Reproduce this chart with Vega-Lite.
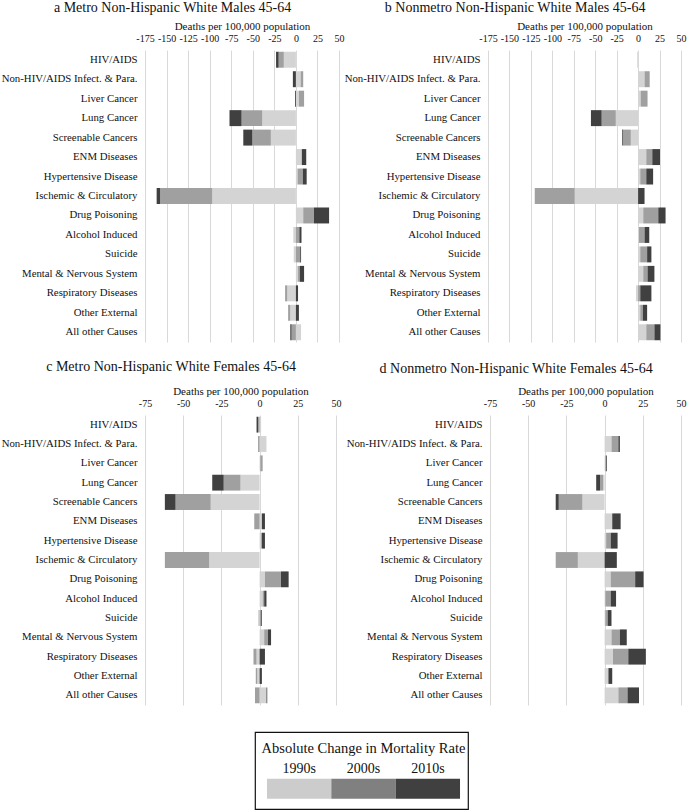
{
  "$schema": "https://vega.github.io/schema/vega-lite/v6.json",
  "padding": {"top": 1, "left": 1, "right": 1, "bottom": 1},
  "background": "white",
  "datasets": {
    "mort": [
      {"panel":"a","cause":"HIV/AIDS","decade":"1990s","value":-14},
      {"panel":"a","cause":"HIV/AIDS","decade":"2000s","value":-6},
      {"panel":"a","cause":"HIV/AIDS","decade":"2010s","value":-3},
      {"panel":"a","cause":"Non-HIV/AIDS Infect. & Para.","decade":"1990s","value":5.5},
      {"panel":"a","cause":"Non-HIV/AIDS Infect. & Para.","decade":"2000s","value":3},
      {"panel":"a","cause":"Non-HIV/AIDS Infect. & Para.","decade":"2010s","value":-3.5},
      {"panel":"a","cause":"Liver Cancer","decade":"1990s","value":3.5},
      {"panel":"a","cause":"Liver Cancer","decade":"2000s","value":6},
      {"panel":"a","cause":"Liver Cancer","decade":"2010s","value":-1},
      {"panel":"a","cause":"Lung Cancer","decade":"1990s","value":-39},
      {"panel":"a","cause":"Lung Cancer","decade":"2000s","value":-24},
      {"panel":"a","cause":"Lung Cancer","decade":"2010s","value":-14},
      {"panel":"a","cause":"Screenable Cancers","decade":"1990s","value":-29},
      {"panel":"a","cause":"Screenable Cancers","decade":"2000s","value":-21.5},
      {"panel":"a","cause":"Screenable Cancers","decade":"2010s","value":-10.5},
      {"panel":"a","cause":"ENM Diseases","decade":"1990s","value":6.5},
      {"panel":"a","cause":"ENM Diseases","decade":"2000s","value":0.5},
      {"panel":"a","cause":"ENM Diseases","decade":"2010s","value":5},
      {"panel":"a","cause":"Hypertensive Disease","decade":"1990s","value":2},
      {"panel":"a","cause":"Hypertensive Disease","decade":"2000s","value":6},
      {"panel":"a","cause":"Hypertensive Disease","decade":"2010s","value":4.5},
      {"panel":"a","cause":"Ischemic & Circulatory","decade":"1990s","value":-97},
      {"panel":"a","cause":"Ischemic & Circulatory","decade":"2000s","value":-60.5},
      {"panel":"a","cause":"Ischemic & Circulatory","decade":"2010s","value":-4},
      {"panel":"a","cause":"Drug Poisoning","decade":"1990s","value":8.5},
      {"panel":"a","cause":"Drug Poisoning","decade":"2000s","value":12.5},
      {"panel":"a","cause":"Drug Poisoning","decade":"2010s","value":17.5},
      {"panel":"a","cause":"Alcohol Induced","decade":"1990s","value":-3},
      {"panel":"a","cause":"Alcohol Induced","decade":"2000s","value":4},
      {"panel":"a","cause":"Alcohol Induced","decade":"2010s","value":2.5},
      {"panel":"a","cause":"Suicide","decade":"1990s","value":-2.5},
      {"panel":"a","cause":"Suicide","decade":"2000s","value":5},
      {"panel":"a","cause":"Suicide","decade":"2010s","value":1},
      {"panel":"a","cause":"Mental & Nervous System","decade":"1990s","value":2.5},
      {"panel":"a","cause":"Mental & Nervous System","decade":"2000s","value":2},
      {"panel":"a","cause":"Mental & Nervous System","decade":"2010s","value":5},
      {"panel":"a","cause":"Respiratory Diseases","decade":"1990s","value":-10},
      {"panel":"a","cause":"Respiratory Diseases","decade":"2000s","value":-2.5},
      {"panel":"a","cause":"Respiratory Diseases","decade":"2010s","value":2.5},
      {"panel":"a","cause":"Other External","decade":"1990s","value":-6.5},
      {"panel":"a","cause":"Other External","decade":"2000s","value":-2.5},
      {"panel":"a","cause":"Other External","decade":"2010s","value":3.5},
      {"panel":"a","cause":"All other Causes","decade":"1990s","value":6},
      {"panel":"a","cause":"All other Causes","decade":"2000s","value":-5},
      {"panel":"a","cause":"All other Causes","decade":"2010s","value":-1.5},

      {"panel":"b","cause":"HIV/AIDS","decade":"1990s","value":-1},
      {"panel":"b","cause":"HIV/AIDS","decade":"2000s","value":0},
      {"panel":"b","cause":"HIV/AIDS","decade":"2010s","value":0},
      {"panel":"b","cause":"Non-HIV/AIDS Infect. & Para.","decade":"1990s","value":7.5},
      {"panel":"b","cause":"Non-HIV/AIDS Infect. & Para.","decade":"2000s","value":6},
      {"panel":"b","cause":"Non-HIV/AIDS Infect. & Para.","decade":"2010s","value":0},
      {"panel":"b","cause":"Liver Cancer","decade":"1990s","value":3},
      {"panel":"b","cause":"Liver Cancer","decade":"2000s","value":8},
      {"panel":"b","cause":"Liver Cancer","decade":"2010s","value":0},
      {"panel":"b","cause":"Lung Cancer","decade":"1990s","value":-26},
      {"panel":"b","cause":"Lung Cancer","decade":"2000s","value":-16.5},
      {"panel":"b","cause":"Lung Cancer","decade":"2010s","value":-12.5},
      {"panel":"b","cause":"Screenable Cancers","decade":"1990s","value":-8.5},
      {"panel":"b","cause":"Screenable Cancers","decade":"2000s","value":-9},
      {"panel":"b","cause":"Screenable Cancers","decade":"2010s","value":-1},
      {"panel":"b","cause":"ENM Diseases","decade":"1990s","value":9.5},
      {"panel":"b","cause":"ENM Diseases","decade":"2000s","value":7},
      {"panel":"b","cause":"ENM Diseases","decade":"2010s","value":9},
      {"panel":"b","cause":"Hypertensive Disease","decade":"1990s","value":2.5},
      {"panel":"b","cause":"Hypertensive Disease","decade":"2000s","value":7},
      {"panel":"b","cause":"Hypertensive Disease","decade":"2010s","value":8},
      {"panel":"b","cause":"Ischemic & Circulatory","decade":"1990s","value":-74},
      {"panel":"b","cause":"Ischemic & Circulatory","decade":"2000s","value":-46.5},
      {"panel":"b","cause":"Ischemic & Circulatory","decade":"2010s","value":7.5},
      {"panel":"b","cause":"Drug Poisoning","decade":"1990s","value":6},
      {"panel":"b","cause":"Drug Poisoning","decade":"2000s","value":17.5},
      {"panel":"b","cause":"Drug Poisoning","decade":"2010s","value":8.5},
      {"panel":"b","cause":"Alcohol Induced","decade":"1990s","value":1},
      {"panel":"b","cause":"Alcohol Induced","decade":"2000s","value":6.5},
      {"panel":"b","cause":"Alcohol Induced","decade":"2010s","value":5.5},
      {"panel":"b","cause":"Suicide","decade":"1990s","value":2.5},
      {"panel":"b","cause":"Suicide","decade":"2000s","value":8},
      {"panel":"b","cause":"Suicide","decade":"2010s","value":5},
      {"panel":"b","cause":"Mental & Nervous System","decade":"1990s","value":6},
      {"panel":"b","cause":"Mental & Nervous System","decade":"2000s","value":5},
      {"panel":"b","cause":"Mental & Nervous System","decade":"2010s","value":8},
      {"panel":"b","cause":"Respiratory Diseases","decade":"1990s","value":-2.5},
      {"panel":"b","cause":"Respiratory Diseases","decade":"2000s","value":2.5},
      {"panel":"b","cause":"Respiratory Diseases","decade":"2010s","value":13},
      {"panel":"b","cause":"Other External","decade":"1990s","value":2.5},
      {"panel":"b","cause":"Other External","decade":"2000s","value":3},
      {"panel":"b","cause":"Other External","decade":"2010s","value":5},
      {"panel":"b","cause":"All other Causes","decade":"1990s","value":9.5},
      {"panel":"b","cause":"All other Causes","decade":"2000s","value":9.5},
      {"panel":"b","cause":"All other Causes","decade":"2010s","value":7},

      {"panel":"c","cause":"HIV/AIDS","decade":"1990s","value":1},
      {"panel":"c","cause":"HIV/AIDS","decade":"2000s","value":-1},
      {"panel":"c","cause":"HIV/AIDS","decade":"2010s","value":-1},
      {"panel":"c","cause":"Non-HIV/AIDS Infect. & Para.","decade":"1990s","value":4.5},
      {"panel":"c","cause":"Non-HIV/AIDS Infect. & Para.","decade":"2000s","value":-1},
      {"panel":"c","cause":"Non-HIV/AIDS Infect. & Para.","decade":"2010s","value":0},
      {"panel":"c","cause":"Liver Cancer","decade":"1990s","value":0.5},
      {"panel":"c","cause":"Liver Cancer","decade":"2000s","value":1.5},
      {"panel":"c","cause":"Liver Cancer","decade":"2010s","value":0},
      {"panel":"c","cause":"Lung Cancer","decade":"1990s","value":-12.5},
      {"panel":"c","cause":"Lung Cancer","decade":"2000s","value":-11},
      {"panel":"c","cause":"Lung Cancer","decade":"2010s","value":-7.5},
      {"panel":"c","cause":"Screenable Cancers","decade":"1990s","value":-32},
      {"panel":"c","cause":"Screenable Cancers","decade":"2000s","value":-23},
      {"panel":"c","cause":"Screenable Cancers","decade":"2010s","value":-7},
      {"panel":"c","cause":"ENM Diseases","decade":"1990s","value":1.5},
      {"panel":"c","cause":"ENM Diseases","decade":"2000s","value":-3.5},
      {"panel":"c","cause":"ENM Diseases","decade":"2010s","value":2},
      {"panel":"c","cause":"Hypertensive Disease","decade":"1990s","value":1},
      {"panel":"c","cause":"Hypertensive Disease","decade":"2000s","value":0.5},
      {"panel":"c","cause":"Hypertensive Disease","decade":"2010s","value":2},
      {"panel":"c","cause":"Ischemic & Circulatory","decade":"1990s","value":-33},
      {"panel":"c","cause":"Ischemic & Circulatory","decade":"2000s","value":-29},
      {"panel":"c","cause":"Ischemic & Circulatory","decade":"2010s","value":0},
      {"panel":"c","cause":"Drug Poisoning","decade":"1990s","value":3.5},
      {"panel":"c","cause":"Drug Poisoning","decade":"2000s","value":10.5},
      {"panel":"c","cause":"Drug Poisoning","decade":"2010s","value":5},
      {"panel":"c","cause":"Alcohol Induced","decade":"1990s","value":2},
      {"panel":"c","cause":"Alcohol Induced","decade":"2000s","value":1},
      {"panel":"c","cause":"Alcohol Induced","decade":"2010s","value":1.5},
      {"panel":"c","cause":"Suicide","decade":"1990s","value":-1},
      {"panel":"c","cause":"Suicide","decade":"2000s","value":1},
      {"panel":"c","cause":"Suicide","decade":"2010s","value":0.5},
      {"panel":"c","cause":"Mental & Nervous System","decade":"1990s","value":3},
      {"panel":"c","cause":"Mental & Nervous System","decade":"2000s","value":2.5},
      {"panel":"c","cause":"Mental & Nervous System","decade":"2010s","value":2},
      {"panel":"c","cause":"Respiratory Diseases","decade":"1990s","value":-2},
      {"panel":"c","cause":"Respiratory Diseases","decade":"2000s","value":-2},
      {"panel":"c","cause":"Respiratory Diseases","decade":"2010s","value":3.5},
      {"panel":"c","cause":"Other External","decade":"1990s","value":-1.5},
      {"panel":"c","cause":"Other External","decade":"2000s","value":-1},
      {"panel":"c","cause":"Other External","decade":"2010s","value":1.5},
      {"panel":"c","cause":"All other Causes","decade":"1990s","value":4.5},
      {"panel":"c","cause":"All other Causes","decade":"2000s","value":-3},
      {"panel":"c","cause":"All other Causes","decade":"2010s","value":0.5},

      {"panel":"d","cause":"HIV/AIDS","decade":"1990s","value":0},
      {"panel":"d","cause":"HIV/AIDS","decade":"2000s","value":0},
      {"panel":"d","cause":"HIV/AIDS","decade":"2010s","value":0},
      {"panel":"d","cause":"Non-HIV/AIDS Infect. & Para.","decade":"1990s","value":4.5},
      {"panel":"d","cause":"Non-HIV/AIDS Infect. & Para.","decade":"2000s","value":4.5},
      {"panel":"d","cause":"Non-HIV/AIDS Infect. & Para.","decade":"2010s","value":1},
      {"panel":"d","cause":"Liver Cancer","decade":"1990s","value":0.5},
      {"panel":"d","cause":"Liver Cancer","decade":"2000s","value":0.5},
      {"panel":"d","cause":"Liver Cancer","decade":"2010s","value":0.5},
      {"panel":"d","cause":"Lung Cancer","decade":"1990s","value":-1},
      {"panel":"d","cause":"Lung Cancer","decade":"2000s","value":-2},
      {"panel":"d","cause":"Lung Cancer","decade":"2010s","value":-2.5},
      {"panel":"d","cause":"Screenable Cancers","decade":"1990s","value":-14.5},
      {"panel":"d","cause":"Screenable Cancers","decade":"2000s","value":-15.5},
      {"panel":"d","cause":"Screenable Cancers","decade":"2010s","value":-2},
      {"panel":"d","cause":"ENM Diseases","decade":"1990s","value":5},
      {"panel":"d","cause":"ENM Diseases","decade":"2000s","value":0},
      {"panel":"d","cause":"ENM Diseases","decade":"2010s","value":5.5},
      {"panel":"d","cause":"Hypertensive Disease","decade":"1990s","value":1},
      {"panel":"d","cause":"Hypertensive Disease","decade":"2000s","value":3},
      {"panel":"d","cause":"Hypertensive Disease","decade":"2010s","value":4.5},
      {"panel":"d","cause":"Ischemic & Circulatory","decade":"1990s","value":-17.5},
      {"panel":"d","cause":"Ischemic & Circulatory","decade":"2000s","value":-14.5},
      {"panel":"d","cause":"Ischemic & Circulatory","decade":"2010s","value":8},
      {"panel":"d","cause":"Drug Poisoning","decade":"1990s","value":4},
      {"panel":"d","cause":"Drug Poisoning","decade":"2000s","value":16},
      {"panel":"d","cause":"Drug Poisoning","decade":"2010s","value":5.5},
      {"panel":"d","cause":"Alcohol Induced","decade":"1990s","value":0.5},
      {"panel":"d","cause":"Alcohol Induced","decade":"2000s","value":3.5},
      {"panel":"d","cause":"Alcohol Induced","decade":"2010s","value":3.5},
      {"panel":"d","cause":"Suicide","decade":"1990s","value":0.5},
      {"panel":"d","cause":"Suicide","decade":"2000s","value":1.5},
      {"panel":"d","cause":"Suicide","decade":"2010s","value":2.5},
      {"panel":"d","cause":"Mental & Nervous System","decade":"1990s","value":4.5},
      {"panel":"d","cause":"Mental & Nervous System","decade":"2000s","value":5.5},
      {"panel":"d","cause":"Mental & Nervous System","decade":"2010s","value":4.5},
      {"panel":"d","cause":"Respiratory Diseases","decade":"1990s","value":5.5},
      {"panel":"d","cause":"Respiratory Diseases","decade":"2000s","value":10},
      {"panel":"d","cause":"Respiratory Diseases","decade":"2010s","value":11.5},
      {"panel":"d","cause":"Other External","decade":"1990s","value":2.5},
      {"panel":"d","cause":"Other External","decade":"2000s","value":0},
      {"panel":"d","cause":"Other External","decade":"2010s","value":2.5},
      {"panel":"d","cause":"All other Causes","decade":"1990s","value":9},
      {"panel":"d","cause":"All other Causes","decade":"2000s","value":6},
      {"panel":"d","cause":"All other Causes","decade":"2010s","value":7.5}
    ],
    "decades": [
      {"decade":"1990s"},
      {"decade":"2000s"},
      {"decade":"2010s"}
    ]
  },
  "resolve": {"scale": {"color": "independent"}},
  "spacing": 26,
  "vconcat": [
    {
      "spacing": 18,
      "vconcat": [
        {
          "spacing": 0,
          "hconcat": [
            {
              "title": {"text": "a  Metro Non-Hispanic White Males 45-64", "offset": 5},
              "width": 194, "height": 292,
              "data": {"name": "mort"},
              "transform": [{"filter": "datum.panel == 'a'"}],
              "mark": {"type": "bar"},
              "encoding": {
                "y": {"field": "cause", "type": "nominal", "sort": ["HIV/AIDS","Non-HIV/AIDS Infect. & Para.","Liver Cancer","Lung Cancer","Screenable Cancers","ENM Diseases","Hypertensive Disease","Ischemic & Circulatory","Drug Poisoning","Alcohol Induced","Suicide","Mental & Nervous System","Respiratory Diseases","Other External","All other Causes"], "scale": {"paddingInner": 0.18, "paddingOuter": 0.09}},
                "x": {"field": "value", "type": "quantitative", "stack": "zero", "scale": {"domain": [-175, 50], "nice": false}, "axis": {"orient": "top", "values": [-175,-150,-125,-100,-75,-50,-25,0,25,50], "title": "Deaths per 100,000 population", "labelExpr": "'' + datum.value"}},
                "color": {"field": "decade", "type": "nominal", "scale": {"domain": ["1990s","2000s","2010s"], "range": ["#d4d4d4","#a0a0a0","#404040"]}, "legend": null},
                "order": {"field": "decade", "type": "ordinal"}
              }
            },
            {
              "title": {"text": "b  Nonmetro Non-Hispanic White Males 45-64", "offset": 5},
              "width": 193, "height": 292,
              "data": {"name": "mort"},
              "transform": [{"filter": "datum.panel == 'b'"}],
              "mark": {"type": "bar"},
              "encoding": {
                "y": {"field": "cause", "type": "nominal", "sort": ["HIV/AIDS","Non-HIV/AIDS Infect. & Para.","Liver Cancer","Lung Cancer","Screenable Cancers","ENM Diseases","Hypertensive Disease","Ischemic & Circulatory","Drug Poisoning","Alcohol Induced","Suicide","Mental & Nervous System","Respiratory Diseases","Other External","All other Causes"], "scale": {"paddingInner": 0.18, "paddingOuter": 0.09}},
                "x": {"field": "value", "type": "quantitative", "stack": "zero", "scale": {"domain": [-175, 50], "nice": false}, "axis": {"orient": "top", "values": [-175,-150,-125,-100,-75,-50,-25,0,25,50], "title": "Deaths per 100,000 population", "labelExpr": "'' + datum.value"}},
                "color": {"field": "decade", "type": "nominal", "scale": {"domain": ["1990s","2000s","2010s"], "range": ["#d4d4d4","#a0a0a0","#404040"]}, "legend": null},
                "order": {"field": "decade", "type": "ordinal"}
              }
            }
          ]
        },
        {
          "spacing": 5,
          "hconcat": [
            {
              "title": {"text": "c  Metro Non-Hispanic White Females 45-64", "offset": 11},
              "width": 191, "height": 290,
              "data": {"name": "mort"},
              "transform": [{"filter": "datum.panel == 'c'"}],
              "mark": {"type": "bar"},
              "encoding": {
                "y": {"field": "cause", "type": "nominal", "sort": ["HIV/AIDS","Non-HIV/AIDS Infect. & Para.","Liver Cancer","Lung Cancer","Screenable Cancers","ENM Diseases","Hypertensive Disease","Ischemic & Circulatory","Drug Poisoning","Alcohol Induced","Suicide","Mental & Nervous System","Respiratory Diseases","Other External","All other Causes"], "scale": {"paddingInner": 0.18, "paddingOuter": 0.09}},
                "x": {"field": "value", "type": "quantitative", "stack": "zero", "scale": {"domain": [-75, 50], "nice": false}, "axis": {"orient": "top", "values": [-75,-50,-25,0,25,50], "title": "Deaths per 100,000 population", "labelExpr": "'' + datum.value"}},
                "color": {"field": "decade", "type": "nominal", "scale": {"domain": ["1990s","2000s","2010s"], "range": ["#d4d4d4","#a0a0a0","#404040"]}, "legend": null},
                "order": {"field": "decade", "type": "ordinal"}
              }
            },
            {
              "title": {"text": "d  Nonmetro Non-Hispanic White Females 45-64", "offset": 9},
              "width": 191, "height": 290,
              "data": {"name": "mort"},
              "transform": [{"filter": "datum.panel == 'd'"}],
              "mark": {"type": "bar"},
              "encoding": {
                "y": {"field": "cause", "type": "nominal", "sort": ["HIV/AIDS","Non-HIV/AIDS Infect. & Para.","Liver Cancer","Lung Cancer","Screenable Cancers","ENM Diseases","Hypertensive Disease","Ischemic & Circulatory","Drug Poisoning","Alcohol Induced","Suicide","Mental & Nervous System","Respiratory Diseases","Other External","All other Causes"], "scale": {"paddingInner": 0.18, "paddingOuter": 0.09}},
                "x": {"field": "value", "type": "quantitative", "stack": "zero", "scale": {"domain": [-75, 50], "nice": false}, "axis": {"orient": "top", "values": [-75,-50,-25,0,25,50], "title": "Deaths per 100,000 population", "labelExpr": "'' + datum.value"}},
                "color": {"field": "decade", "type": "nominal", "scale": {"domain": ["1990s","2000s","2010s"], "range": ["#d4d4d4","#a0a0a0","#404040"]}, "legend": null},
                "order": {"field": "decade", "type": "ordinal"}
              }
            }
          ]
        }
      ]
    },
    {
      "spacing": 0,
      "hconcat": [
        {
          "width": 109, "height": 10,
          "data": {"values": []},
          "mark": {"type": "point"},
          "encoding": {}
        },
        {
          "width": 213, "height": 77,
          "view": {"stroke": "#111111", "strokeWidth": 1.2},
          "data": {"name": "decades"},
          "layer": [
            {
              "mark": {"type": "rect"},
              "encoding": {
                "x": {"field": "decade", "type": "nominal", "scale": {"paddingInner": 0, "paddingOuter": 0.155, "align": 0.6}, "axis": null},
                "y": {"datum": "swatch", "type": "nominal", "scale": {"domain": ["title","label","swatch"], "paddingInner": 0, "paddingOuter": 0.425, "align": 0.4}, "axis": null},
                "color": {"field": "decade", "type": "nominal", "scale": {"domain": ["1990s","2000s","2010s"], "range": ["#cccccc","#808080","#404040"]}, "legend": null}
              }
            },
            {
              "mark": {"type": "text", "fontSize": 14, "font": "Liberation Serif", "color": "#111111"},
              "encoding": {
                "x": {"field": "decade", "type": "nominal", "axis": null},
                "y": {"datum": "label", "type": "nominal", "axis": null},
                "text": {"field": "decade"}
              }
            },
            {
              "data": {"values": [{"t": "Absolute Change in Mortality Rate"}]},
              "mark": {"type": "text", "fontSize": 14.5, "font": "Liberation Serif", "color": "#111111"},
              "encoding": {
                "x": {"datum": "2000s", "type": "nominal", "axis": null},
                "y": {"datum": "title", "type": "nominal", "axis": null},
                "text": {"field": "t"}
              }
            }
          ]
        }
      ]
    }
  ],
  "config": {
    "font": "Liberation Serif",
    "view": {"stroke": null},
    "title": {"font": "Liberation Serif", "fontSize": 14, "fontWeight": "normal", "color": "#111111", "anchor": "middle", "frame": "bounds"},
    "axis": {"labelFont": "Liberation Serif", "titleFont": "Liberation Serif", "labelColor": "#111111", "titleColor": "#111111", "titleFontWeight": "normal", "domain": false, "ticks": false},
    "axisX": {"grid": true, "gridColor": "#d9d9d9", "labelFont": "Liberation Serif", "labelFontSize": 10, "titleFontSize": 11, "labelPadding": 7, "titlePadding": 2, "labelOverlap": false, "labelFlush": false},
    "axisY": {"grid": false, "labelFontSize": 10.8, "labelPadding": 8, "title": null, "labelLimit": 220}
  }
}
